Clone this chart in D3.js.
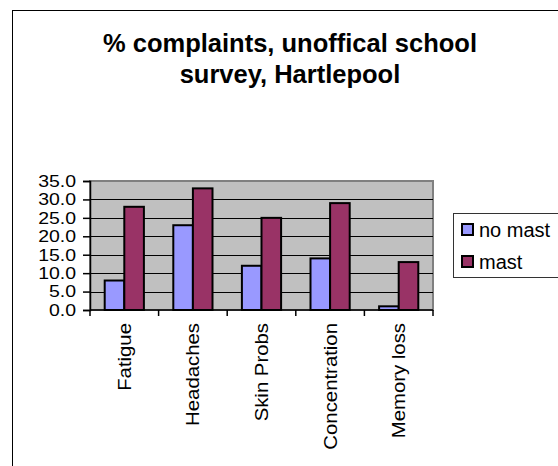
<!DOCTYPE html>
<html>
<head>
<meta charset="utf-8">
<script src="https://cdn.jsdelivr.net/npm/d3@7"></script>
<style>
  body { margin: 0; background: #fff; }
  svg { display: block; font-family: Arial, "Liberation Sans", sans-serif; }
</style>
</head>
<body>
<svg id="chart" width="558" height="466"></svg>
<script>
// values
var categories = ["Fatigue", "Headaches", "Skin Probs", "Concentration", "Memory loss"];
var seriesNames = ["no mast", "mast"];
var noMast = [8, 23, 12, 14, 1];
var mast = [28, 33, 25, 29, 13];
var yTicks = [0, 5, 10, 15, 20, 25, 30, 35];
var colors = ["#9999FF", "#993366"];
var titleLines = ["% complaints, unoffical school", "survey, Hartlepool"];

var svg = d3.select("#chart");

var plot = {left: 90, right: 433, top: 181, bottom: 310};

// outer chart border (runs off the right / bottom of the picture)
svg.append("rect")
    .attr("x", 12.5).attr("y", 10.5)
    .attr("width", 600).attr("height", 500)
    .attr("fill", "none")
    .attr("stroke", "#000")
    .attr("stroke-width", 1);

// title
svg.append("text")
    .attr("text-anchor", "middle")
    .attr("font-weight", "bold")
    .attr("font-size", "25.5px")
    .selectAll("tspan")
    .data(titleLines)
    .enter()
    .append("tspan")
    .attr("x", 290)
    .attr("y", (d, i) => 52 + i * 31)
    .text(d => d);

var x0 = d3.scaleBand()
    .domain(categories)
    .range([plot.left, plot.right])
    .padding(0);

var x1 = d3.scaleBand()
    .domain(seriesNames)
    .range([0, x0.bandwidth()])
    .paddingInner(0)
    .paddingOuter(0.75);

var y = d3.scaleLinear()
    .domain([0, 35])
    .range([plot.bottom, plot.top]);

// plot area
svg.append("rect")
    .attr("x", plot.left).attr("y", plot.top)
    .attr("width", plot.right - plot.left)
    .attr("height", plot.bottom - plot.top)
    .attr("fill", "#C0C0C0")
    .attr("stroke", "#808080")
    .attr("stroke-width", 2);

// gridlines
svg.append("g")
    .selectAll("line")
    .data(yTicks.filter(d => d > 0 && d < 35))
    .enter()
    .append("line")
    .attr("x1", plot.left).attr("x2", plot.right)
    .attr("y1", d => Math.round(y(d)) + 0.5)
    .attr("y2", d => Math.round(y(d)) + 0.5)
    .attr("stroke", "#000")
    .attr("stroke-width", 1);

// bars
var rows = categories.map((c, i) => ({cat: c, values: [noMast[i], mast[i]]}));

svg.append("g")
    .selectAll("g")
    .data(rows)
    .enter()
    .append("g")
    .attr("transform", d => "translate(" + x0(d.cat) + ",0)")
    .selectAll("rect")
    .data(d => d.values.map((v, j) => ({name: seriesNames[j], value: v, color: colors[j]})))
    .enter()
    .append("rect")
    .attr("x", d => x1(d.name))
    .attr("y", d => y(d.value))
    .attr("width", x1.bandwidth())
    .attr("height", d => y(0) - y(d.value))
    .attr("fill", d => d.color)
    .attr("stroke", "#000")
    .attr("stroke-width", 2);

// y axis - labels are a bit wide in the original, so stretch them sideways
var sx = 1.18;
var yAxis = svg.append("g")
    .attr("transform", "translate(" + plot.left + ",0)")
    .call(d3.axisLeft(y).tickValues(yTicks).tickFormat(d3.format(".1f")).tickSize(7));
yAxis.selectAll("text")
    .attr("font-size", "16.5px")
    .attr("fill", "#000")
    .attr("font-family", null)
    .attr("x", -14 / sx)
    .attr("transform", "scale(" + sx + ",1)");
yAxis.selectAll("line, path").attr("stroke", "#000").attr("stroke-width", 1.5);

// x axis
var tickPos = categories.map(c => x0(c)).concat([plot.right]);
var xAxis = svg.append("g");
xAxis.append("line")
    .attr("x1", plot.left).attr("x2", plot.right)
    .attr("y1", plot.bottom).attr("y2", plot.bottom)
    .attr("stroke", "#000").attr("stroke-width", 1.5);
xAxis.selectAll("line.tick")
    .data(tickPos)
    .enter()
    .append("line")
    .attr("class", "tick")
    .attr("x1", d => d).attr("x2", d => d)
    .attr("y1", plot.bottom).attr("y2", plot.bottom + 6)
    .attr("stroke", "#000").attr("stroke-width", 1.5);
xAxis.selectAll("text")
    .data(categories)
    .enter()
    .append("text")
    .attr("transform", d => "translate(" + (x0(d) + x0.bandwidth() / 2 + 6.5) + "," + 323 + ") rotate(-90) scale(1.1,1)")
    .attr("text-anchor", "end")
    .attr("font-size", "18.5px")
    .text(d => d);

// legend
var legend = svg.append("g");
legend.append("rect")
    .attr("x", 453.5).attr("y", 213.5)
    .attr("width", 120).attr("height", 64)
    .attr("fill", "#fff")
    .attr("stroke", "#333")
    .attr("stroke-width", 1);
var items = legend.selectAll("g.item")
    .data(seriesNames)
    .enter()
    .append("g")
    .attr("class", "item")
    .attr("transform", (d, i) => "translate(0," + (i * 32) + ")");
items.append("rect")
    .attr("x", 462).attr("y", 224)
    .attr("width", 11).attr("height", 11)
    .attr("fill", (d, i) => colors[i])
    .attr("stroke", "#000")
    .attr("stroke-width", 2);
items.append("text")
    .attr("x", 479).attr("y", 237)
    .attr("font-size", "20px")
    .text(d => d);
</script>
</body>
</html>
